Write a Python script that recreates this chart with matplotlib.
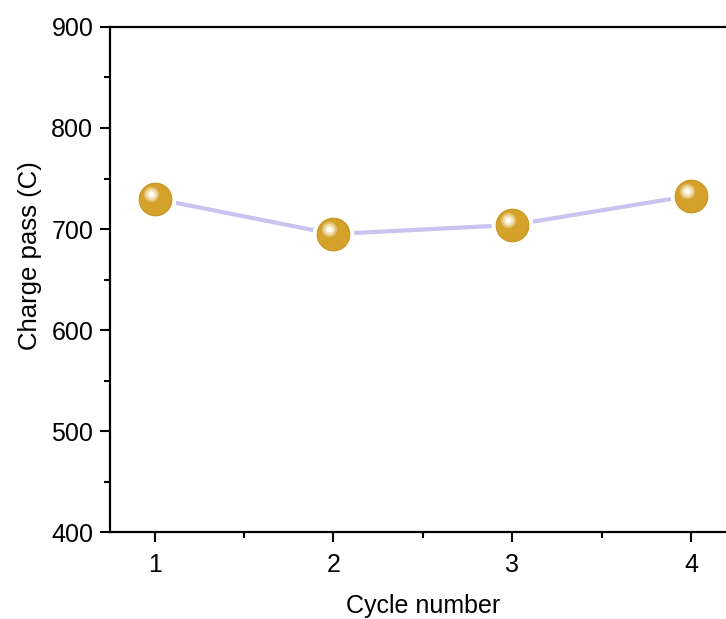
import matplotlib.pyplot as plt
import matplotlib.transforms as mtransforms
from matplotlib.ticker import MultipleLocator

cycles = [1, 2, 3, 4]
charge_pass = [730, 695, 704, 733]

plt.rcParams["font.family"] = ["Liberation Sans", "DejaVu Sans"]

fig = plt.figure(figsize=(7.26, 6.19), dpi=100)
# axes run slightly past the right edge of the figure
ax = fig.add_axes([0.1515, 0.1405, 0.862, 0.8159])

ax.plot(cycles, charge_pass, color="#c9c4ef", lw=3, zorder=1)
ax.plot(cycles, charge_pass, ls="none", marker="o", ms=23,
        mfc="none", mec="white", mew=7, zorder=2)
ax.plot(cycles, charge_pass, ls="none", marker="o", ms=23.5,
        mfc="#d4a12a", mec="#c4951f", mew=0.8, zorder=3)

# specular highlight on each bead
shift = mtransforms.offset_copy(ax.transData, fig=fig, x=-3.0, y=3.5, units="points")
ax.plot(cycles, charge_pass, ls="none", marker="o", ms=11,
        mfc="#e2c06e", mec="none", transform=shift, zorder=4)
ax.plot(cycles, charge_pass, ls="none", marker="o", ms=8,
        mfc="#f2e0b2", mec="none", transform=shift, zorder=5)
ax.plot(cycles, charge_pass, ls="none", marker="o", ms=4.5,
        mfc="#fffcf4", mec="none", transform=shift, zorder=6)

ax.set_xlim(0.75, 4.25)
ax.set_ylim(400, 900)
ax.xaxis.set_major_locator(MultipleLocator(1))
ax.xaxis.set_minor_locator(MultipleLocator(0.5))
ax.yaxis.set_major_locator(MultipleLocator(100))
ax.yaxis.set_minor_locator(MultipleLocator(50))
ax.tick_params(which="both", direction="out", width=1.5, labelsize=18,
               top=False, right=False)
ax.tick_params(which="major", length=7)
ax.tick_params(which="minor", length=4.5)
ax.tick_params(axis="x", which="major", pad=8)
ax.tick_params(axis="y", which="major", pad=5)
for spine in ax.spines.values():
    spine.set_linewidth(1.6)

ax.set_xlabel("Cycle number", fontsize=18, labelpad=12)
ax.set_ylabel("Charge pass (C)", fontsize=18.5, labelpad=7, y=0.547)

fig.savefig("out.png", dpi=100)
